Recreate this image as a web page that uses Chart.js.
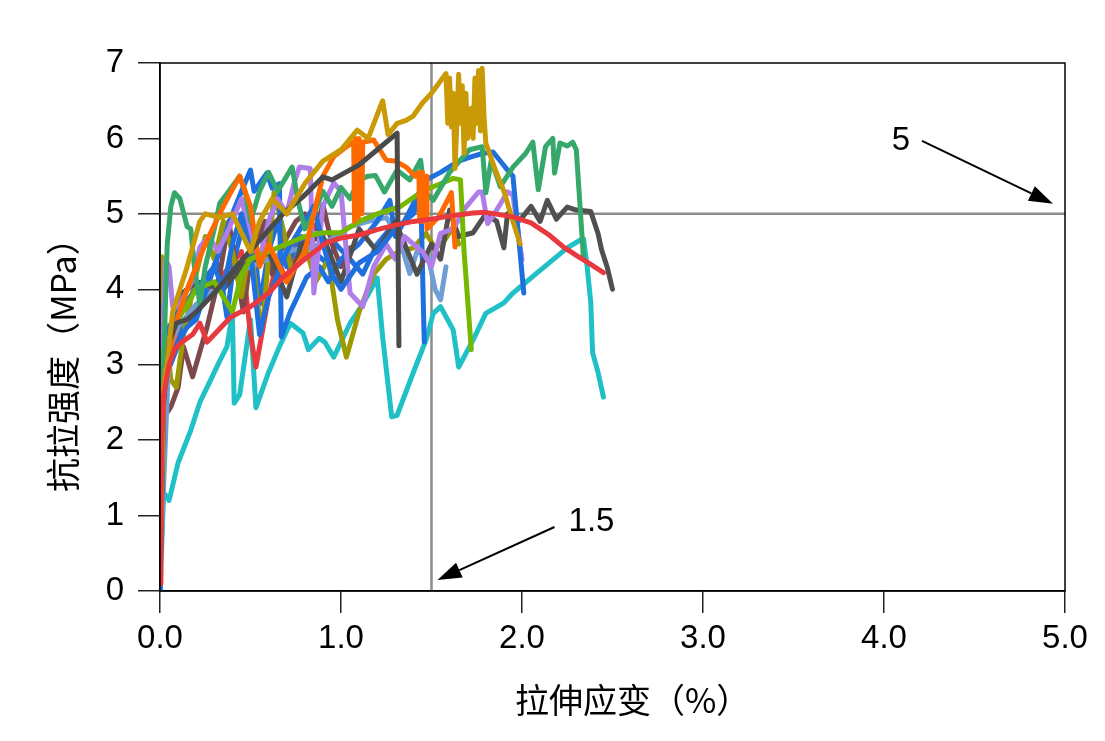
<!DOCTYPE html>
<html>
<head>
<meta charset="utf-8">
<script src="https://cdn.jsdelivr.net/npm/chart.js@4.4.1/dist/chart.umd.min.js"></script>
<style>
  html, body { margin: 0; padding: 0; background: #fff; }
  #wrap { width: 1105px; height: 741px; position: relative; }
</style>
</head>
<body>
<div id="wrap"><canvas id="chart"></canvas></div>
<script>
// tick labels
const strainTicks = ['0.0', '1.0', '2.0', '3.0', '4.0', '5.0'];
const stressTicks = ['0', '1', '2', '3', '4', '5', '6', '7'];

// reference lines (strain 1.5 %, stress 5 MPa)
const refStrain = 1.5;
const refStress = 5;

// specimen curves, strain (%) and stress (MPa)
const redStrain = [0, 0.005, 0.01, 0.02, 0.05, 0.08, 0.12, 0.18, 0.22, 0.26, 0.3, 0.39, 0.5, 0.6, 0.68, 0.8, 0.92, 1.0, 1.1, 1.2, 1.3, 1.4, 1.5, 1.6, 1.73, 1.8, 1.9, 1.95, 2.05, 2.15, 2.23, 2.3, 2.38, 2.45];
const redStress = [0.1, 1.0, 2.0, 2.6, 3.0, 3.2, 3.3, 3.4, 3.55, 3.3, 3.4, 3.63, 3.77, 3.95, 4.16, 4.4, 4.62, 4.68, 4.72, 4.79, 4.85, 4.9, 4.93, 4.97, 5.01, 5.02, 4.98, 4.96, 4.88, 4.72, 4.56, 4.45, 4.33, 4.22];

const red2Strain = [0, 0.01, 0.03, 0.08, 0.15, 0.25, 0.35, 0.45, 0.5, 0.53, 0.6, 0.65, 0.7, 0.75, 0.8];
const red2Stress = [0.1, 2.2, 2.9, 3.3, 3.6, 3.9, 4.2, 4.5, 3.4, 2.97, 3.9, 4.4, 4.1, 4.6, 4.4];

const goldStrain = [0, 0.02, 0.07, 0.15, 0.22, 0.25, 0.33, 0.4, 0.5, 0.55, 0.62, 0.7, 0.8, 0.9, 1.0, 1.09, 1.15, 1.23, 1.26, 1.31, 1.36, 1.4, 1.45, 1.5, 1.58, 1.59, 1.6, 1.61, 1.62, 1.63, 1.64, 1.65, 1.66, 1.67, 1.68, 1.69, 1.7, 1.72, 1.73, 1.74, 1.75, 1.76, 1.77, 1.78, 1.79, 1.8, 1.85, 1.9, 1.95, 1.99];
const goldStress = [0.3, 2.6, 3.7, 4.3, 4.9, 5.0, 4.95, 5.0, 4.5, 4.9, 5.2, 5.0, 5.4, 5.7, 5.85, 6.11, 6.0, 6.5, 6.05, 6.2, 6.24, 6.3, 6.47, 6.6, 6.86, 6.2, 6.8, 6.15, 6.6, 5.6, 6.2, 6.85, 6.2, 6.7, 5.8, 6.6, 6.0, 6.4, 6.0, 6.8, 6.2, 6.9, 6.1, 6.93, 6.3, 5.94, 5.6, 5.3, 4.9, 4.6];

const grayAStrain = [0, 0.02, 0.05, 0.09, 0.15, 0.2, 0.3, 0.44, 0.55, 0.68, 0.8, 0.9, 0.95, 1.1, 1.2, 1.31, 1.32];
const grayAStress = [0.2, 2.5, 3.3, 3.55, 3.6, 3.7, 3.95, 4.35, 4.65, 5.0, 5.25, 5.49, 5.45, 5.65, 5.85, 6.07, 3.25];

const grayBStrain = [0, 0.02, 0.05, 0.1, 0.2, 0.35, 0.45, 0.6, 0.7, 0.78, 0.9, 1.0, 1.1, 1.2, 1.3, 1.42, 1.5, 1.55, 1.6, 1.65, 1.73, 1.8, 1.86, 1.9, 1.92, 1.99, 2.05, 2.1, 2.14, 2.19, 2.25, 2.3, 2.38, 2.42, 2.44, 2.47, 2.5];
const grayBStress = [0.1, 2.6, 3.3, 3.9, 4.1, 4.0, 4.3, 4.5, 3.9, 4.6, 4.7, 4.1, 4.8, 4.5, 4.9, 4.2, 4.6, 4.4, 5.05, 4.7, 4.75, 5.0, 4.9, 4.55, 5.0, 4.92, 5.1, 4.9, 5.18, 4.93, 5.09, 5.05, 5.03, 4.74, 4.52, 4.3, 4.0];

const cyanStrain = [0, 0.02, 0.04, 0.05, 0.1, 0.17, 0.22, 0.28, 0.33, 0.37, 0.4, 0.41, 0.44, 0.47, 0.5, 0.53, 0.6, 0.66, 0.72, 0.79, 0.82, 0.88, 0.91, 0.96, 1.05, 1.12, 1.2, 1.23, 1.28, 1.31, 1.4, 1.47, 1.51, 1.55, 1.62, 1.65, 1.73, 1.8, 1.9, 1.95, 2.0, 2.1, 2.17, 2.25, 2.32, 2.34, 2.36, 2.38, 2.39, 2.42, 2.45];
const cyanStress = [0, 1.3, 1.25, 1.2, 1.7, 2.13, 2.5, 2.8, 3.05, 3.24, 3.68, 2.49, 2.6, 3.1, 3.6, 2.43, 2.9, 3.24, 3.55, 3.42, 3.2, 3.35, 3.3, 3.1, 3.55, 3.8, 4.15, 3.37, 2.31, 2.33, 2.9, 3.33, 3.68, 3.77, 3.46, 2.97, 3.33, 3.68, 3.82, 3.95, 4.05, 4.25, 4.39, 4.55, 4.65, 4.67, 4.3, 3.82, 3.16, 2.9, 2.57];

const blueAStrain = [0, 0.01, 0.02, 0.03, 0.05, 0.1, 0.15, 0.2, 0.3, 0.4, 0.45, 0.5, 0.52, 0.59, 0.62, 0.66, 0.67, 0.72, 0.81, 0.88, 0.93, 1.0, 1.1, 1.2, 1.27, 1.3, 1.35, 1.44, 1.46];
const blueAStress = [0, 2.5, 3.8, 3.3, 3.0, 3.3, 3.5, 3.6, 4.3, 5.0, 5.3, 5.58, 5.3, 5.54, 5.34, 5.4, 3.37, 3.7, 4.16, 4.3, 4.1, 4.4, 4.6, 4.9, 5.18, 4.7, 4.9, 5.32, 3.3];

const blueBStrain = [0, 0.02, 0.05, 0.1, 0.2, 0.3, 0.35, 0.4, 0.45, 0.5, 0.55, 0.6, 0.7, 0.8, 0.85, 0.9, 0.95, 1.0, 1.1, 1.2, 1.3, 1.4, 1.47, 1.55, 1.65, 1.71, 1.78, 1.84, 1.88, 1.92, 1.95, 2.01];
const blueBStress = [0, 3.0, 3.5, 3.7, 4.0, 4.3, 4.0, 4.6, 5.0, 4.5, 3.4, 3.9, 4.5, 4.9, 5.1, 4.6, 4.2, 4.0, 4.35, 4.5, 4.8, 5.0, 5.45, 5.55, 5.7, 5.75, 5.8, 5.82, 5.7, 5.58, 5.5, 3.95];

const blueCStrain = [0, 0.01, 0.04, 0.09, 0.13, 0.17, 0.24, 0.31, 0.34, 0.37, 0.41, 0.48, 0.52, 0.55, 0.6, 0.65, 0.7, 0.78, 0.85, 0.92, 0.97, 1.05, 1.12, 1.2, 1.27];
const blueCStress = [0.1, 3.55, 2.89, 3.2, 3.5, 3.55, 3.9, 4.39, 4.1, 3.63, 4.4, 5.05, 4.7, 3.8, 4.5, 4.9, 4.3, 4.7, 4.5, 4.35, 4.6, 4.4, 4.2, 4.6, 4.8];

const orangeStrain = [0, 0.01, 0.03, 0.08, 0.15, 0.25, 0.35, 0.44, 0.5, 0.55, 0.6, 0.7, 0.8, 0.9, 0.96, 1.03, 1.07, 1.075, 1.08, 1.085, 1.09, 1.095, 1.1, 1.105, 1.11, 1.115, 1.12, 1.18, 1.25, 1.3, 1.36, 1.41, 1.43, 1.435, 1.44, 1.445, 1.45, 1.455, 1.46, 1.465, 1.47, 1.475, 1.54, 1.61, 1.63];
const orangeStress = [0.1, 2.5, 2.9, 3.5, 4.0, 4.6, 5.1, 5.5, 5.1, 4.3, 4.6, 4.1, 4.5, 5.5, 5.76, 5.89, 5.95, 4.9, 6.0, 5.0, 5.98, 4.95, 6.0, 5.1, 5.95, 5.0, 5.95, 5.98, 5.71, 5.7, 5.62, 5.5, 5.55, 4.9, 5.55, 4.95, 5.55, 4.9, 5.5, 4.95, 5.5, 4.8, 4.96, 5.28, 4.56];

const purpleStrain = [0, 0.01, 0.03, 0.05, 0.07, 0.09, 0.13, 0.18, 0.22, 0.27, 0.32, 0.38, 0.45, 0.5, 0.55, 0.6, 0.65, 0.7, 0.74, 0.77, 0.83, 0.85, 0.9, 0.96, 1.0, 1.05, 1.12, 1.18, 1.25, 1.3, 1.35, 1.45, 1.5, 1.55, 1.62, 1.69, 1.76, 1.78, 1.81, 1.86, 1.92, 1.95, 1.99, 2.0];
const purpleStress = [0.1, 3.0, 4.39, 4.3, 3.77, 3.7, 3.9, 4.12, 4.56, 4.7, 4.5, 4.8, 5.2, 4.7, 4.4, 4.9, 5.2, 5.0, 5.4, 5.62, 5.6, 3.95, 5.1, 5.41, 5.3, 3.95, 3.77, 4.3, 4.6, 4.4, 4.7, 4.5, 4.3, 4.74, 4.8, 5.09, 5.29, 5.29, 4.87, 5.05, 5.29, 5.25, 4.56, 4.39];

const brownStrain = [0, 0.02, 0.06, 0.1, 0.13, 0.18, 0.26, 0.33, 0.38, 0.42, 0.46, 0.5, 0.58, 0.62, 0.68, 0.75, 0.8, 0.86, 0.9, 0.95, 1.0, 1.05];
const brownStress = [0.1, 2.3, 2.44, 2.7, 3.24, 2.84, 3.5, 4.2, 4.9, 4.3, 3.7, 4.4, 4.9, 4.2, 4.6, 4.9, 5.0, 4.8, 5.12, 4.6, 4.3, 4.55];

const oliveStrain = [0, 0.01, 0.02, 0.06, 0.09, 0.13, 0.2, 0.25, 0.3, 0.35, 0.4, 0.45, 0.5, 0.55, 0.57, 0.63, 0.68, 0.73, 0.8, 0.86, 0.93, 0.98, 1.03, 1.1, 1.18, 1.25, 1.32, 1.4, 1.47, 1.52, 1.56, 1.62, 1.65];
const oliveStress = [0.1, 4.43, 3.7, 2.8, 2.7, 3.4, 4.2, 4.7, 4.4, 4.9, 4.5, 3.9, 4.6, 3.6, 3.6, 5.28, 4.8, 4.2, 4.6, 4.1, 4.4, 3.6, 3.1, 3.7, 4.2, 4.4, 4.5, 4.55, 4.74, 4.55, 4.6, 4.83, 4.6];

const limeStrain = [0, 0.02, 0.1, 0.2, 0.3, 0.4, 0.45, 0.5, 0.6, 0.7, 0.8, 0.9, 1.0, 1.1, 1.2, 1.33, 1.45, 1.55, 1.62, 1.66, 1.68, 1.72];
const limeStress = [0.1, 3.2, 3.6, 4.0, 4.1, 3.7, 4.2, 4.4, 4.5, 4.6, 4.7, 4.75, 4.75, 4.9, 5.0, 5.1, 5.3, 5.4, 5.47, 5.45, 4.5, 3.2];

const steelStrain = [0, 0.05, 0.1, 0.2, 0.3, 0.4, 0.5, 0.6, 0.7, 0.8, 0.9, 1.0, 1.05, 1.15, 1.25, 1.32, 1.38, 1.42, 1.48, 1.52, 1.55, 1.58];
const steelStress = [0.2, 3.2, 3.5, 3.8, 4.0, 4.2, 4.3, 4.4, 4.5, 4.55, 4.6, 4.75, 4.83, 4.9, 4.95, 4.7, 4.21, 4.5, 4.45, 4.0, 3.86, 4.3];

const greenStrain = [0, 0.02, 0.04, 0.06, 0.08, 0.11, 0.15, 0.17, 0.19, 0.22, 0.25, 0.3, 0.33, 0.38, 0.44, 0.47, 0.5, 0.55, 0.6, 0.65, 0.7, 0.73, 0.76, 0.8, 0.85, 0.9, 0.95, 1.0, 1.05, 1.1, 1.15, 1.19, 1.24, 1.31, 1.38, 1.44, 1.46, 1.51, 1.6, 1.71, 1.78, 1.8, 1.83, 1.88, 1.95, 2.02, 2.06, 2.09, 2.13, 2.17, 2.18, 2.21, 2.25, 2.28, 2.3, 2.34];
const greenStress = [0.1, 3.0, 4.6, 5.1, 5.28, 5.2, 4.83, 4.8, 4.3, 3.8, 4.3, 4.8, 5.14, 5.3, 5.5, 5.3, 4.9, 5.3, 5.55, 5.3, 5.5, 5.62, 5.2, 4.8, 5.0, 5.3, 5.1, 5.35, 5.2, 5.45, 5.5, 5.51, 5.29, 5.58, 5.45, 5.71, 5.3, 5.18, 5.55, 5.85, 5.89, 5.28, 5.71, 5.36, 5.62, 5.8, 5.95, 5.32, 5.89, 6.0, 5.54, 5.94, 5.9, 5.95, 5.85, 4.4];

function pairs(xs, ys) {
  return xs.map((v, i) => ({ x: v, y: ys[i] }));
}

function curve(xs, ys, color) {
  return {
    data: pairs(xs, ys),
    borderColor: color,
    borderWidth: 5,
    borderJoinStyle: 'round',
    borderCapStyle: 'round',
    pointRadius: 0,
    tension: 0,
    fill: false
  };
}

function refLine(points) {
  return {
    data: points,
    borderColor: '#8c8c8c',
    borderWidth: 2.5,
    pointRadius: 0,
    order: 100
  };
}

// index 0 ends up on top
const datasets = [
  curve(redStrain, redStress, '#e8393f'),
  curve(goldStrain, goldStress, '#c99a06'),
  curve(grayAStrain, grayAStress, '#4a4a4a'),
  curve(orangeStrain, orangeStress, '#ff6a00'),
  curve(greenStrain, greenStress, '#36a86c'),
  curve(limeStrain, limeStress, '#74b800'),
  curve(blueBStrain, blueBStress, '#1f6fde'),
  curve(purpleStrain, purpleStress, '#b07ee8'),
  curve(grayBStrain, grayBStress, '#505050'),
  curve(blueAStrain, blueAStress, '#1e70e0'),
  curve(steelStrain, steelStress, '#6e9ed4'),
  curve(oliveStrain, oliveStress, '#9c9a00'),
  curve(brownStrain, brownStress, '#7c4a4c'),
  curve(blueCStrain, blueCStress, '#1f6fde'),
  curve(red2Strain, red2Stress, '#e8393f'),
  curve(cyanStrain, cyanStress, '#1fc0c6'),
  refLine([{ x: refStrain, y: 0 }, { x: refStrain, y: 7 }]),
  refLine([{ x: 0, y: refStress }, { x: 5, y: refStress }])
];

function arrow(ctx, x0, y0, x1, y1) {
  const ang = Math.atan2(y1 - y0, x1 - x0);
  const len = 24, half = 8;
  const bx = x1 - len * Math.cos(ang), by = y1 - len * Math.sin(ang);
  ctx.beginPath();
  ctx.moveTo(x0, y0);
  ctx.lineTo(bx, by);
  ctx.stroke();
  ctx.beginPath();
  ctx.moveTo(x1, y1);
  ctx.lineTo(bx + half * Math.sin(ang), by - half * Math.cos(ang));
  ctx.lineTo(bx - half * Math.sin(ang), by + half * Math.cos(ang));
  ctx.closePath();
  ctx.fill();
}

const annotate = {
  id: 'annotate',
  afterDraw: (chart) => {
    const { ctx, chartArea: a, scales } = chart;
    const x = scales.x, y = scales.y;
    ctx.save();
    // box round the plot
    ctx.strokeStyle = '#000';
    ctx.lineWidth = 1.5;
    ctx.strokeRect(a.left, a.top, a.right - a.left, a.bottom - a.top);

    // arrows and their labels
    ctx.fillStyle = '#000';
    ctx.lineWidth = 2;
    const px15 = x.getPixelForValue(refStrain), py0 = y.getPixelForValue(0);
    arrow(ctx, px15 + 123, py0 - 64, px15 + 6, py0 - 11);
    const px5 = x.getPixelForValue(5), py5 = y.getPixelForValue(refStress);
    arrow(ctx, px5 - 143, py5 - 73, px5 - 12, py5 - 10);

    ctx.font = '33px "Liberation Sans", Arial, sans-serif';
    ctx.textAlign = 'center';
    ctx.textBaseline = 'middle';
    ctx.fillText(String(refStrain), px15 + 160, py0 - 69);
    ctx.fillText(String(refStress), px5 - 164, py5 - 73);

    // axis titles
    ctx.font = '34px "Noto Sans CJK SC", sans-serif';
    ctx.textAlign = 'left';
    ctx.fillText('拉伸应变（%）', 515, 700);
    ctx.translate(63, 492);
    ctx.rotate(-Math.PI / 2);
    ctx.fillText('抗拉强度（MPa）', 0, 0);
    ctx.restore();
  }
};

const tickFont = { family: '"Liberation Sans", Arial, sans-serif', size: 33 };

new Chart(document.getElementById('chart'), {
  type: 'line',
  data: { datasets: datasets },
  options: {
    responsive: true,
    maintainAspectRatio: false,
    animation: false,
    events: [],
    layout: { padding: { top: 63, right: 40, left: 0, bottom: 0 } },
    plugins: { legend: { display: false }, tooltip: { enabled: false } },
    scales: {
      x: {
        type: 'linear',
        min: 0,
        max: 5,
        ticks: {
          stepSize: 1,
          color: '#000',
          font: tickFont,
          padding: 6,
          maxRotation: 0,
          callback: (v, i) => strainTicks[i]
        },
        grid: { drawOnChartArea: false, tickLength: 22, color: '#222', lineWidth: 1.5 },
        border: { display: true, color: '#000', width: 1.5 },
        afterFit: (s) => { s.height = 150; }
      },
      y: {
        type: 'linear',
        min: 0,
        max: 7,
        ticks: {
          stepSize: 1,
          color: '#000',
          font: tickFont,
          padding: 14,
          callback: (v, i) => stressTicks[i]
        },
        grid: { drawOnChartArea: false, tickLength: 22, color: '#222', lineWidth: 1.5 },
        border: { display: true, color: '#000', width: 1.5 },
        afterFit: (s) => { s.width = 160; }
      }
    }
  },
  plugins: [annotate]
});
</script>
</body>
</html>
